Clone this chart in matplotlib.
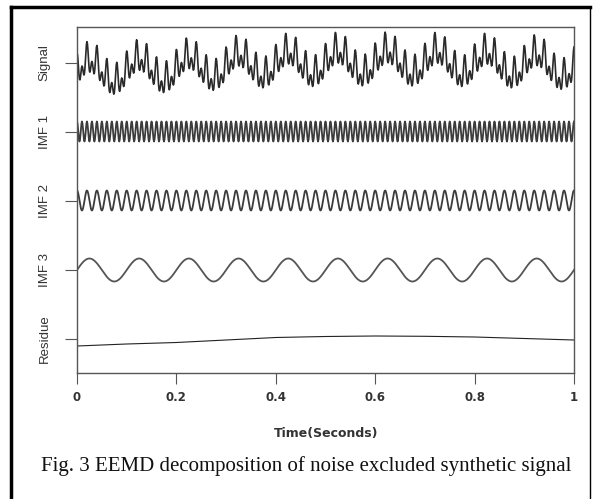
import numpy as np
import matplotlib.pyplot as plt
from matplotlib.lines import Line2D

# synthetic signal components (Hz, amplitude, phase)
imf_names = ["IMF 1", "IMF 2", "IMF 3"]
imf_freq = [100, 50, 10]
imf_amp = [1.0, 1.0, 1.15]
imf_phase = [0.5 * np.pi, 0.5 * np.pi, 0.0]

# residue read at 0.1 s steps
residue_t = [0.0, 0.1, 0.2, 0.3, 0.4, 0.5, 0.6, 0.7, 0.8, 0.9, 1.0]
residue_val = [-0.7, -0.5, -0.35, -0.1, 0.15, 0.25, 0.3, 0.27, 0.2, 0.05, -0.1]

row_labels = ["Signal", "IMF 1", "IMF 2", "IMF 3", "Residue"]
row_offsets = [0.0, -6.85, -13.75, -20.7, -27.6]
xticks = [0, 0.2, 0.4, 0.6, 0.8, 1]
xtick_labels = ["0", "0.2", "0.4", "0.6", "0.8", "1"]

t = np.linspace(0, 1, 1001)
imfs = [a * np.sin(2 * np.pi * f * t + p) for f, a, p in zip(imf_freq, imf_amp, imf_phase)]
signal = sum(imfs) + np.interp(t, residue_t, residue_val)

fig = plt.figure(figsize=(5.96, 4.99), dpi=100)
ax = fig.add_axes([77 / 596, 1 - 373 / 499, 497 / 596, 346 / 499])

ax.plot(t, signal + row_offsets[0] - 0.3, color="#2a2a2a", lw=1.2)
for k, y in enumerate(imfs):
    ax.plot(t, y + row_offsets[k + 1], color="#3c3c3c" if k < 2 else "#555555", lw=1.3)
ax.plot(residue_t, np.array(residue_val) + row_offsets[4], color="#222222", lw=0.8)

ax.set_xlim(0, 1)
ax.set_ylim(-31.0, 3.6)
for s in ax.spines.values():
    s.set_color("#555555")
    s.set_linewidth(1.0)

ax.set_yticks(row_offsets)
ax.set_yticklabels(row_labels, rotation=90, va="center",
                   family=["Liberation Sans Narrow", "Liberation Sans"],
                   fontsize=9.5, color="#333333")
ax.set_xticks(xticks)
ax.set_xticklabels(xtick_labels, fontsize=8.5, fontweight="bold", color="#333333")
ax.tick_params(axis="y", length=9, color="#555555", pad=10)
ax.tick_params(axis="x", length=8, color="#555555", pad=5)

fig.text(326 / 596, 1 - 434 / 499, "Time(Seconds)", ha="center", va="center",
         fontsize=9, fontweight="bold", color="#333333")
fig.text(306 / 596, 1 - 466 / 499,
         "Fig. 3 EEMD decomposition of noise excluded synthetic signal",
         ha="center", va="center", fontsize=15, family="Liberation Serif", color="#111111")

# outer frame around the figure
W, H = 596, 499
fig.add_artist(Line2D([11 / W, 11 / W], [0, 1 - 7 / H], color="black", lw=2.5))
fig.add_artist(Line2D([11 / W, 590 / W], [1 - 7 / H, 1 - 7 / H], color="black", lw=2.5))
fig.add_artist(Line2D([590 / W, 590 / W], [0, 1 - 7 / H], color="black", lw=1.0))

fig.savefig("out.png", dpi=100)
